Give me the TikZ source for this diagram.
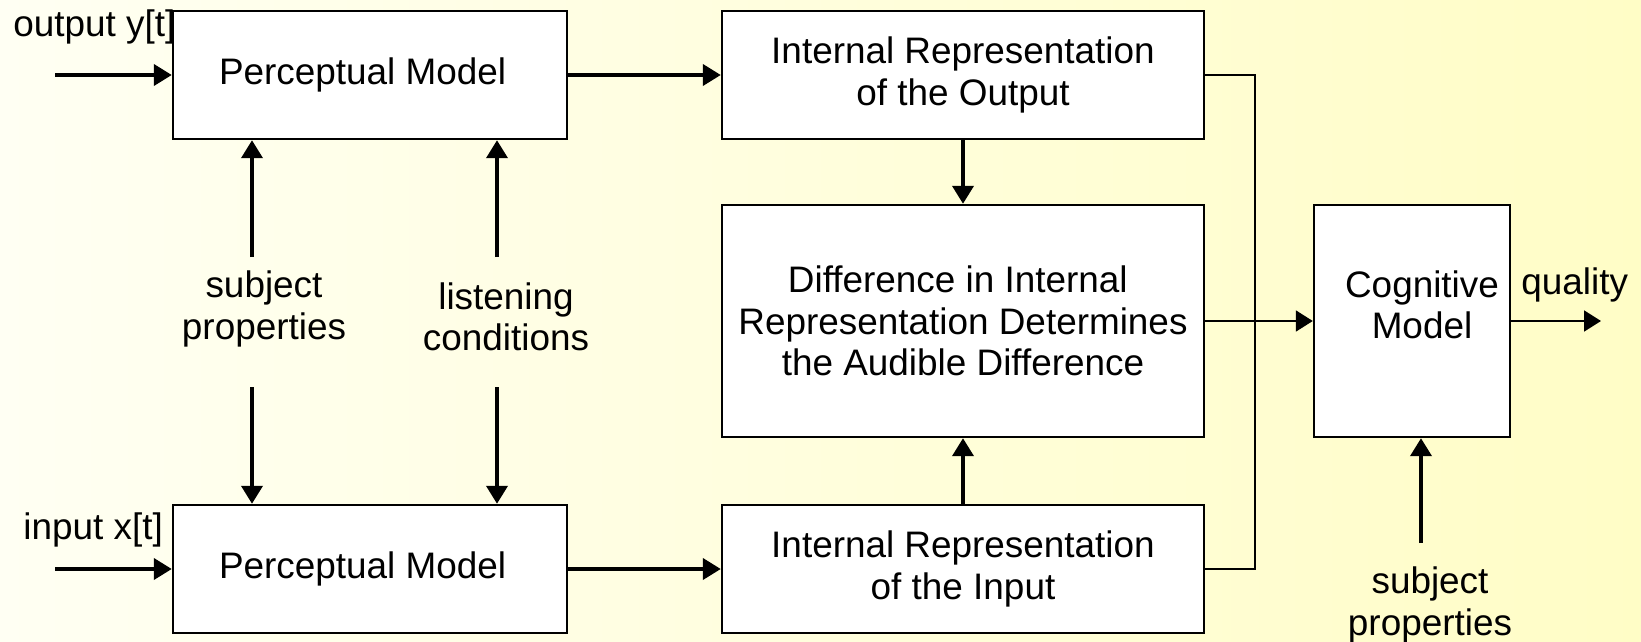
\documentclass[tikz,border=0pt]{standalone}
\usepackage{fontspec}
\setmainfont{Liberation Sans}
\usetikzlibrary{arrows.meta}
\definecolor{bgleft}{RGB}{255,255,243}
\definecolor{bgright}{RGB}{255,253,198}

\begin{document}
\begin{tikzpicture}[x=0.02cm, y=-0.02cm,
    box/.style={draw, line width=1.4pt, fill=white, align=center, font=\fontsize{21}{23.6}\selectfont},
    txt/.style={inner sep=0pt, align=center, font=\fontsize{21}{23.6}\selectfont},
    arr/.style={-{Triangle[length=0.36cm, width=0.42cm]}, line width=2.2pt},
    thinarr/.style={-{Triangle[length=0.34cm, width=0.42cm]}, line width=1.1pt},
    bus/.style={line width=1.1pt}]
    % background
    \useasboundingbox (0,0) rectangle (1641,642);
    \shade[left color=bgleft, right color=bgright] (0,0) rectangle (1641,642);
    % perceptual models
    \node[box, minimum width=7.88cm, minimum height=2.56cm] (pmout) at (370,75) {Perceptual Model\hspace*{0.4em}};
    \node[box, minimum width=7.88cm, minimum height=2.56cm] (pmin) at (370,569) {Perceptual Model\hspace*{0.4em}};
    % internal representations
    \node[box, minimum width=9.64cm, minimum height=2.56cm] (iro) at (963,75) {Internal Representation\\of the Output};
    \node[box, minimum width=9.64cm, minimum height=4.64cm] (diff) at (963,321) {Difference in Internal\hspace*{0.28em}\\Representation Determines\\the Audible Difference};
    \node[box, minimum width=9.64cm, minimum height=2.56cm] (iri) at (963,569) {Internal Representation\\of the Input};
    % cognitive model
    \node[box, minimum width=3.92cm, minimum height=4.64cm] (cog) at (1412,321) {};
    \node[txt] (cogtxt) at (1422,305) {Cognitive\\Model};
    % labels
    \node[txt, anchor=base west] (ylab) at (13,37) {output y[t]};
    \node[txt, anchor=base west] (xlab) at (23,539) {input x[t]};
    \node[txt] (subj) at (264,309) {subject\\properties};
    \node[txt] (listen) at (506,317) {listening\\conditions};
    \node[txt] (subjcog) at (1430,605) {subject\\properties};
    \node[txt, anchor=base west] (qlab) at (1521,295) {quality};
    % free ends
    \coordinate (ysrc) at (55,75);
    \coordinate (xsrc) at (55,569);
    \coordinate (spup) at (252,257);
    \coordinate (spdn) at (252,387);
    \coordinate (lcup) at (497,257);
    \coordinate (lcdn) at (497,387);
    \coordinate (spcog) at (1421,543);
    \coordinate (qend) at (1601,321);
    % signal paths
    \draw[arr] (ysrc) -- (pmout.west);
    \draw[arr] (xsrc) -- (pmin.west);
    \draw[arr] (pmout) -- (iro);
    \draw[arr] (pmin) -- (iri);
    \draw[arr] (iro) -- (diff);
    \draw[arr] (iri) -- (diff);
    % side inputs
    \draw[arr] (spup) -- (spup |- pmout.south);
    \draw[arr] (spdn) -- (spdn |- pmin.north);
    \draw[arr] (lcup) -- (lcup |- pmout.south);
    \draw[arr] (lcdn) -- (lcdn |- pmin.north);
    \draw[arr] (spcog) -- (spcog |- cog.south);
    % to cognitive model
    \draw[bus] (iro.east) -- ++(50,0) |- (iri.east);
    \draw[thinarr] (diff) -- (cog);
    \draw[thinarr] (cog.east) -- (qend);
\end{tikzpicture}
\end{document}
